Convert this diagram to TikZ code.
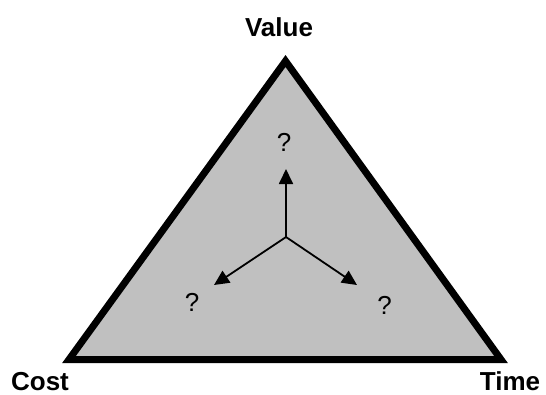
\documentclass[tikz,border=0pt]{standalone}
\usepackage{fontspec}
\setmainfont{Liberation Sans}
\usetikzlibrary{arrows.meta}
\definecolor{trifill}{HTML}{C0C0C0}
\begin{document}
\begin{tikzpicture}[x=1pt,y=-1pt,
  lbl/.style={font=\fontsize{26}{28}\selectfont\bfseries, anchor=base, inner sep=0pt},
  qm/.style={font=\fontsize{26}{28}\selectfont, inner sep=0pt},
  arr/.style={line width=1.8pt, -{Triangle[length=15pt,width=14pt]}}]
\useasboundingbox (0,0) rectangle (546,394);
\coordinate (A) at (285.5,61);
\coordinate (B) at (69,359.5);
\coordinate (C) at (501,359.5);
\draw[line width=7pt, fill=trifill, line join=miter] (A) -- (B) -- (C) -- cycle;
\coordinate (O) at (286,237);
\coordinate (U) at (286,169);
\coordinate (L) at (214,285);
\coordinate (R) at (357,285);
\draw[arr] (O) -- (U);
\draw[arr] (O) -- (L);
\draw[arr] (O) -- (R);
\node[qm] (q1) at (284,142) {?};
\node[qm] (q2) at (192,302) {?};
\node[qm] (q3) at (384.5,305) {?};
\node[lbl] (value) at (279,36) {Value};
\node[lbl] (cost) at (40,390) {Cost};
\node[lbl] (time) at (510,390) {Time};
\end{tikzpicture}
\end{document}
